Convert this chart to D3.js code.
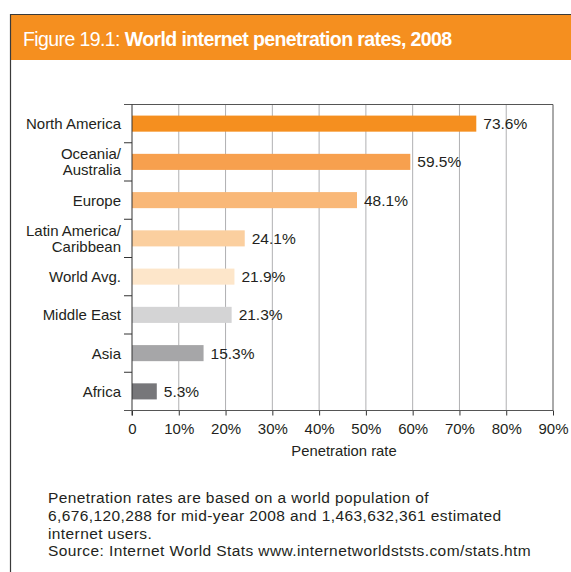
<!DOCTYPE html>
<html>
<head>
<meta charset="utf-8">
<script src="https://cdn.jsdelivr.net/npm/d3@7"></script>
<style>
  body { margin: 0; background: #fff; }
  svg text { font-family: "Liberation Sans", Arial, sans-serif; fill: #231f20; }
</style>
</head>
<body>
<div id="chart"></div>
<script>
// data
const regions = ['North America', 'Oceania/\nAustralia', 'Europe', 'Latin America/\nCaribbean',
  'World Avg.', 'Middle East', 'Asia', 'Africa'];
const rates = [73.6, 59.5, 48.1, 24.1, 21.9, 21.3, 15.3, 5.3];
const barColors = ['#f58f1f', '#f7a04e', '#f9b878', '#fbcf9f', '#fde6ca', '#d4d4d5', '#a6a6a8', '#77777a'];
const ticks = [0, 10, 20, 30, 40, 50, 60, 70, 80, 90];
const notes = [
  'Penetration rates are based on a world population of',
  '6,676,120,288 for mid-year 2008 and 1,463,632,361 estimated',
  'internet users.',
  'Source: Internet World Stats www.internetworldststs.com/stats.htm'
];

const W = 571, H = 572;
const svg = d3.select('#chart').append('svg')
  .attr('width', W).attr('height', H);

// frame + header band
svg.append('rect')
  .attr('x', 10).attr('y', 15).attr('width', W - 10).attr('height', 45)
  .attr('fill', '#f58f1f');
svg.append('path')
  .attr('d', `M10.5,${H} V14.5 H${W}`)
  .attr('fill', 'none').attr('stroke', '#3a3a3a').attr('stroke-width', 1.2);

const title = svg.append('text')
  .attr('x', 23).attr('y', 46)
  .style('font-size', '19.5px')
  .style('letter-spacing', '-0.6px');
title.append('tspan').text('Figure 19.1: ').style('fill', '#fff');
title.append('tspan').text('World internet penetration rates, 2008')
  .style('fill', '#fff').style('font-weight', 'bold');

const x = d3.scaleLinear().domain([0, 90]).range([132, 553]);
const y = d3.scaleBand().domain(regions).range([104.5, 410.5]).paddingInner(0.58).paddingOuter(0.29);

// gridlines
svg.append('g').selectAll('line')
  .data(ticks.slice(1, -1))
  .join('line')
  .attr('x1', d => x(d)).attr('x2', d => x(d))
  .attr('y1', y.range()[0]).attr('y2', y.range()[1])
  .attr('stroke', '#b0b0b2').attr('stroke-width', 1);

// top and right frame of plot
svg.append('path')
  .attr('d', `M124,${y.range()[0]} H${x(90)} V${y.range()[1]}`)
  .attr('fill', 'none').attr('stroke', '#555').attr('stroke-width', 1);

// bars
svg.append('g').selectAll('rect')
  .data(regions)
  .join('rect')
  .attr('x', x(0))
  .attr('y', d => y(d))
  .attr('width', (d, i) => x(rates[i]) - x(0))
  .attr('height', y.bandwidth())
  .attr('fill', (d, i) => barColors[i]);

// value labels
svg.append('g').selectAll('text')
  .data(regions)
  .join('text')
  .attr('x', (d, i) => x(rates[i]) + 7)
  .attr('y', d => y(d) + y.bandwidth() / 2)
  .attr('dy', '0.36em')
  .style('font-size', '15.5px')
  .text((d, i) => rates[i].toFixed(1) + '%');

// y axis: line with ticks between categories
const yBounds = d3.range(regions.length + 1).map(i => y.range()[0] + i * (y.range()[1] - y.range()[0]) / regions.length);
svg.append('line')
  .attr('x1', x(0)).attr('x2', x(0))
  .attr('y1', y.range()[0]).attr('y2', y.range()[1] + 5)
  .attr('stroke', '#333');
svg.append('g').selectAll('line')
  .data(yBounds.slice(1, -1))
  .join('line')
  .attr('x1', 124).attr('x2', x(0))
  .attr('y1', d => d).attr('y2', d => d)
  .attr('stroke', '#333');

// category labels
svg.append('g').selectAll('text')
  .data(regions)
  .join('text')
  .attr('text-anchor', 'end')
  .attr('x', 121)
  .attr('y', d => y(d) + y.bandwidth() / 2)
  .style('font-size', '15px')
  .each(function(d) {
    const lines = d.split('\n');
    const t = d3.select(this);
    lines.forEach((l, k) => {
      t.append('tspan')
        .attr('x', 121)
        .attr('dy', k === 0 ? (0.36 - (lines.length - 1) * 0.53) + 'em' : '1.06em')
        .text(l);
    });
  });

// x axis
const xAxis = d3.axisBottom(x)
  .tickValues(ticks)
  .tickSize(5)
  .tickPadding(8)
  .tickFormat(d => d === 0 ? '0' : d + '%');
const gx = svg.append('g')
  .attr('transform', `translate(0,${y.range()[1]})`)
  .call(xAxis);
gx.select('.domain').remove();
gx.selectAll('line').attr('stroke', '#333');
gx.selectAll('text').style('font-size', '15px').style('font-family', '"Liberation Sans", Arial, sans-serif').attr('fill', '#231f20');
svg.append('line')
  .attr('x1', 124).attr('x2', x(90))
  .attr('y1', y.range()[1]).attr('y2', y.range()[1])
  .attr('stroke', '#555');

svg.append('text')
  .attr('x', 344).attr('y', 456)
  .attr('text-anchor', 'middle')
  .style('font-size', '14.8px')
  .text('Penetration rate');

// footnote
svg.append('g').selectAll('text')
  .data(notes)
  .join('text')
  .attr('x', 48)
  .attr('y', (d, i) => 503 + i * 17.8)
  .style('font-size', '15.5px')
  .style('letter-spacing', '0.4px')
  .text(d => d);
</script>
</body>
</html>
